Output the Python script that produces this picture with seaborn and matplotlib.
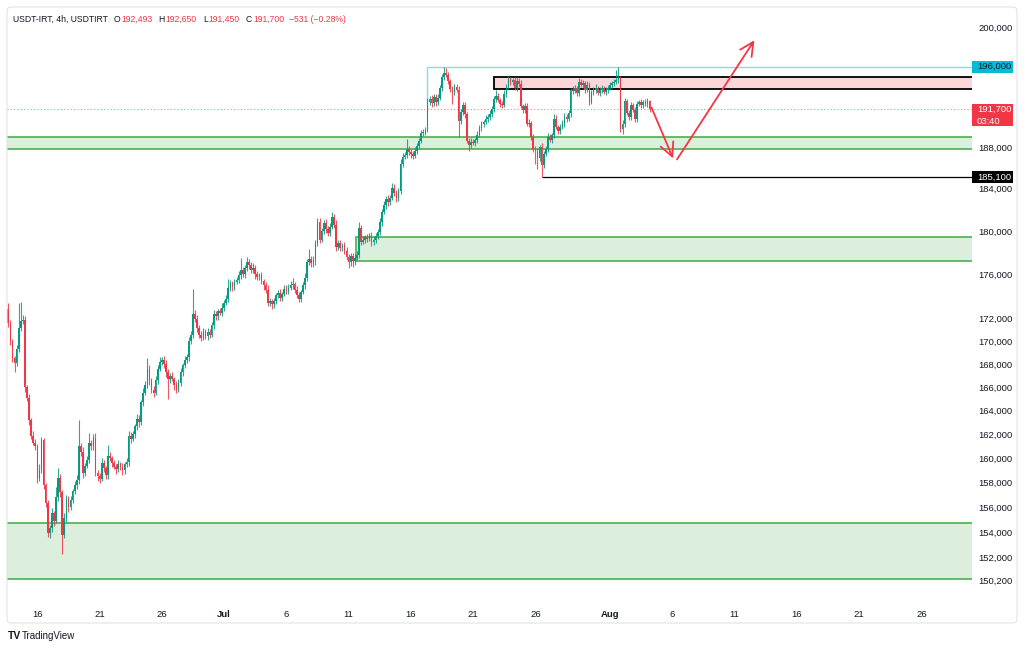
import numpy as np
import pandas as pd
import matplotlib
matplotlib.use("Agg")
import matplotlib.pyplot as plt
import matplotlib.dates as mdates
from matplotlib.patches import Rectangle, FancyBboxPatch
from matplotlib.ticker import FixedLocator, FuncFormatter, NullLocator
import seaborn as sns

# ---- data (prices in thousands of IRT, wicks in hundreds of IRT) ----
first_start = "2025-06-13 16:00"
first_open = 172.9
closes = [
    171.6, 170.0, 168.5, 168.1, 169.3, 171.2, 171.8, 171.9, 166.0, 165.1,
    163.2, 161.9, 161.3, 161.0, 158.4, 159.0, 161.5, 157.8, 156.3, 153.9,
    154.3, 155.5, 154.9, 156.8, 158.4, 157.2, 153.8, 155.1, 156.7, 156.0,
    156.6, 157.3, 157.8, 158.2, 161.0, 160.5, 158.8, 159.4, 159.9, 161.3,
    161.0, 161.7, 158.8, 158.5, 158.3, 159.6, 159.2, 158.6, 160.2, 160.0,
    159.6, 159.3, 159.1, 159.5, 159.3, 159.0, 159.5, 159.7, 161.9, 161.6,
    162.0, 162.7, 163.3, 163.0, 164.7, 165.5, 166.2, 167.6, 166.6, 165.8,
    165.5, 166.6, 167.6, 168.2, 168.4, 168.0, 167.3, 166.7, 167.0, 166.7,
    166.2, 165.8, 166.4, 167.3, 167.9, 168.4, 168.6, 170.0, 170.6, 172.4,
    172.0, 171.2, 170.6, 170.3, 170.9, 170.5, 170.8, 170.6, 171.4, 172.4,
    172.2, 172.7, 172.5, 173.0, 173.4, 173.8, 174.8, 175.2, 174.9, 175.3,
    175.5, 175.9, 176.4, 176.0, 176.6, 177.1, 176.9, 176.4, 176.6, 176.0,
    175.8, 175.9, 175.4, 175.0, 174.6, 173.4, 173.6, 173.3, 173.6, 174.1,
    174.3, 173.9, 174.2, 174.7, 174.5, 174.8, 175.0, 175.1, 174.6, 174.1,
    173.8, 174.4, 175.0, 175.7, 177.1, 177.4, 177.0, 177.3, 178.9, 180.8,
    179.2, 180.0, 180.7, 180.2, 179.8, 180.4, 181.3, 180.6, 178.5, 178.9,
    178.4, 178.7, 178.1, 177.6, 177.1, 177.7, 177.2, 177.5, 177.8, 180.3,
    179.0, 179.2, 179.4, 179.3, 179.5, 179.0, 179.2, 179.5, 179.9, 180.8,
    181.8, 182.4, 183.0, 182.7, 183.1, 184.1, 183.6, 183.1, 183.8, 186.4,
    187.0, 187.2, 187.8, 187.5, 187.3, 187.1, 187.6, 188.1, 188.6, 189.4,
    189.5, 189.7, 192.4, 192.7, 192.3, 192.9, 192.4, 192.8, 193.8, 194.9,
    195.4, 195.2, 194.5, 193.7, 193.4, 193.9, 193.6, 190.6, 191.4, 192.1,
    191.2, 188.6, 188.2, 188.5, 188.4, 188.7, 189.2, 189.9, 190.3, 190.5,
    190.8, 191.0, 191.2, 191.7, 192.7, 193.0, 192.6, 192.2, 192.1, 193.2,
    193.9, 194.7, 194.4, 194.6, 193.8, 194.5, 194.2, 192.0, 191.6, 192.0,
    190.3, 190.4, 189.0, 187.7, 187.6, 186.9, 188.0, 186.3, 187.3, 187.8,
    189.0, 188.7, 189.2, 190.8, 190.0, 189.6, 190.0, 190.3, 191.0, 190.8,
    191.3, 193.6, 193.5, 193.8, 193.3, 194.4, 194.1, 194.3, 193.6, 194.1,
    192.4, 193.4, 193.6, 193.8, 193.3, 193.6, 193.8, 193.4, 193.6, 193.8,
    194.1, 194.3, 194.4, 194.6, 194.8, 189.8, 190.3, 192.5, 191.3, 191.0,
    192.1, 191.6, 190.8, 192.2, 192.4, 192.1, 192.4, 192.2, 192.493, 191.7,
]
wick_up = [
    5, 3, 2, 2, 4, 22, 17, 4, 3, 2,
    3, 2, 4, 3, 2, 5, 3, 2, 2, 3,
    3, 4, 2, 8, 8, 3, 2, 4, 3, 2,
    3, 2, 3, 4, 22, 3, 4, 2, 3, 8,
    2, 3, 4, 2, 3, 4, 3, 2, 9, 3,
    2, 3, 2, 4, 2, 3, 2, 3, 4, 3,
    3, 2, 4, 3, 2, 4, 3, 9, 3, 2,
    3, 4, 3, 4, 2, 3, 4, 3, 2, 3,
    2, 3, 3, 4, 2, 3, 3, 4, 3, 23,
    4, 3, 2, 3, 3, 2, 4, 3, 3, 4,
    3, 2, 3, 4, 3, 3, 8, 3, 2, 3,
    3, 4, 11, 3, 3, 5, 3, 2, 4, 3,
    3, 2, 3, 2, 3, 4, 3, 2, 3, 2,
    3, 4, 2, 3, 3, 3, 4, 6, 2, 3,
    3, 2, 3, 4, 3, 9, 3, 4, 3, 4,
    4, 3, 3, 4, 3, 3, 5, 3, 4, 3,
    3, 2, 3, 4, 3, 3, 3, 4, 3, 5,
    3, 3, 2, 3, 3, 4, 2, 3, 3, 4,
    3, 4, 3, 4, 3, 4, 3, 3, 3, 4,
    4, 3, 10, 3, 3, 3, 4, 3, 3, 3,
    3, 3, 4, 3, 4, 3, 3, 4, 3, 4,
    6, 5, 3, 2, 3, 3, 3, 4, 3, 3,
    3, 2, 3, 4, 3, 2, 4, 3, 3, 2,
    3, 2, 4, 3, 3, 6, 3, 2, 3, 4,
    3, 4, 3, 2, 3, 5, 3, 4, 2, 3,
    3, 4, 2, 3, 4, 3, 2, 4, 3, 3,
    4, 3, 2, 4, 3, 2, 3, 4, 3, 2,
    3, 2, 4, 3, 2, 4, 3, 3, 2, 4,
    3, 2, 3, 4, 2, 3, 3, 2, 3, 3,
    3, 2, 3, 11, 12, 3, 4, 3, 2, 3,
    3, 2, 3, 3, 2, 3, 2, 3, 3, 1.6,
]
wick_dn = [
    3, 3, 3, 8, 3, 2, 3, 3, 4, 3,
    4, 3, 2, 3, 4, 3, 2, 3, 3, 3,
    4, 3, 4, 2, 3, 4, 15, 3, 3, 4,
    2, 3, 2, 3, 3, 3, 4, 3, 2, 3,
    3, 3, 3, 4, 3, 2, 3, 3, 3, 2,
    3, 2, 4, 2, 3, 4, 3, 2, 3, 3,
    2, 3, 3, 4, 2, 3, 2, 3, 4, 3,
    3, 2, 3, 2, 3, 3, 4, 17, 3, 2,
    4, 3, 2, 3, 3, 2, 3, 3, 2, 3,
    3, 4, 3, 3, 2, 3, 4, 3, 2, 3,
    3, 3, 2, 3, 3, 2, 3, 3, 4, 3,
    2, 3, 3, 2, 3, 3, 4, 3, 3, 4,
    3, 3, 3, 4, 3, 3, 3, 4, 3, 3,
    2, 3, 3, 2, 3, 3, 2, 3, 3, 2,
    3, 3, 2, 3, 3, 2, 3, 3, 4, 3,
    3, 2, 3, 4, 3, 3, 2, 3, 4, 3,
    3, 3, 2, 3, 5, 3, 5, 3, 2, 3,
    3, 2, 3, 3, 2, 4, 3, 3, 2, 3,
    3, 2, 3, 4, 3, 2, 3, 4, 3, 3,
    3, 2, 3, 3, 4, 3, 2, 3, 3, 2,
    3, 3, 2, 3, 4, 3, 4, 3, 2, 3,
    3, 2, 3, 3, 12, 3, 2, 16, 3, 3,
    3, 2, 6, 3, 2, 3, 3, 2, 3, 3,
    2, 3, 3, 2, 3, 3, 2, 3, 3, 2,
    3, 2, 3, 3, 2, 3, 3, 2, 3, 3,
    2, 3, 3, 2, 12, 10, 3, 12, 3, 2,
    3, 2, 3, 3, 2, 3, 3, 2, 3, 3,
    2, 3, 3, 2, 3, 3, 2, 3, 3, 2,
    3, 2, 3, 3, 2, 3, 3, 2, 3, 3,
    2, 3, 3, 2, 3, 3, 5, 3, 2, 3,
    3, 2, 3, 3, 2, 3, 3, 2, 3, 2.5,
]

zone_upper = (187.8, 189.0)
zone_mid = (177.2, 179.4)
zone_mid_start = "2025-07-11 15:00"
zone_low = (150.3, 154.7)
supply_box = (193.7, 194.9)
supply_start = "2025-07-22 17:00"
high_level = 196.0
high_start = "2025-07-17 08:00"
high_drop = 192.4
low_level = 185.1
low_start = "2025-07-26 12:00"
last_price = 191.7

arrow_down = [("2025-08-04 07:40", 191.9), ("2025-08-06 01:30", 186.9)]
arrow_up = [("2025-08-06 09:00", 186.8), ("2025-08-12 14:10", 198.7)]

ytick_values = [200000, 188000, 184000, 180000, 176000, 172000, 170000, 168000,
                166000, 164000, 162000, 160000, 158000, 156000, 154000, 152000, 150200]
xtick_dates = ["2025-06-16", "2025-06-21", "2025-06-26", "2025-07-01", "2025-07-06",
               "2025-07-11", "2025-07-16", "2025-07-21", "2025-07-26", "2025-08-01",
               "2025-08-06", "2025-08-11", "2025-08-16", "2025-08-21", "2025-08-26"]
xtick_labels = ["16", "21", "26", "Jul", "6", "11", "16", "21", "26", "Aug",
                "6", "11", "16", "21", "26"]

header = [("USDT-IRT, 4h, USDTIRT", "dark", 6), ("O", "dark", 1), ("192,493", "red", 6),
          ("H", "dark", 1), ("192,650", "red", 6), ("L", "dark", 1), ("191,450", "red", 6),
          ("C", "dark", 1), ("191,700", "red", 5), ("\u2212531 (\u22120.28%)", "red", 0)]

GREEN = "#089981"
RED = "#f23645"
TXT = "#131722"

sns.set_theme(style="white")
plt.rcParams["font.family"] = ["Liberation Sans", "DejaVu Sans"]

# ---- build OHLC table ----
times = pd.date_range(first_start, periods=len(closes), freq="4h")
close = np.array(closes) * 1000
open_ = np.concatenate([[first_open], closes[:-1]]) * 1000
high = np.maximum(open_, close) + np.array(wick_up) * 100
low = np.minimum(open_, close) - np.array(wick_dn) * 100
df = pd.DataFrame({"time": times, "open": open_, "high": high, "low": low, "close": close})
df["x"] = mdates.date2num(df["time"])
df["color"] = np.where(df["close"] >= df["open"], GREEN, RED)

W, H = 1024, 650
fig = plt.figure(figsize=(W / 100, H / 100), dpi=100)
fig.patch.set_facecolor("white")
ax = fig.add_axes([7 / W, 1 - 600 / H, (972 - 7) / W, (600 - 7) / H])
ax.set_facecolor("white")

x_left = mdates.date2num(pd.Timestamp("2025-06-13 13:30"))
x_right = mdates.date2num(pd.Timestamp("2025-08-30 01:36"))
far_right = x_right + 30


def d(s):
    return mdates.date2num(pd.Timestamp(s))


# zones
for lo, hi, start in [(zone_upper[0], zone_upper[1], x_left - 5),
                      (zone_mid[0], zone_mid[1], d(zone_mid_start)),
                      (zone_low[0], zone_low[1], x_left - 5)]:
    ax.add_patch(Rectangle((start, lo * 1000), far_right - start, (hi - lo) * 1000,
                           facecolor="#dbefdc", edgecolor="#4caf50", lw=1.2, zorder=1))

ax.add_patch(Rectangle((d(supply_start), supply_box[0] * 1000), far_right - d(supply_start),
                       (supply_box[1] - supply_box[0]) * 1000,
                       facecolor="#fcd7da", edgecolor="black", lw=1.3, zorder=1))

# levels
ax.hlines(high_level * 1000, d(high_start), far_right, color="#80deea", lw=1.0, zorder=1)
ax.vlines(d(high_start), high_drop * 1000, high_level * 1000, color="#80deea", lw=1.0, zorder=1)
ax.hlines(low_level * 1000, d(low_start), far_right, color="black", lw=0.9, zorder=1)
ax.axhline(last_price * 1000, color=RED, lw=0.8, ls=(0, (1, 2)), alpha=0.6, zorder=1)

# candles
ax.vlines(df["x"], df["low"], df["high"], colors=df["color"], lw=0.8, alpha=0.85, zorder=2)
body_lo = np.minimum(df["open"], df["close"])
body_h = np.maximum(np.abs(df["close"] - df["open"]), 40)
ax.bar(df["x"], body_h, bottom=body_lo, width=4 / 24 * 0.8, color=df["color"],
       linewidth=0, zorder=3)

# arrows
for (s0, p0), (s1, p1) in [arrow_down, arrow_up]:
    ax.annotate("", xy=(d(s1), p1 * 1000), xytext=(d(s0), p0 * 1000),
                arrowprops=dict(arrowstyle="->,head_length=0.7,head_width=0.35", color=RED,
                                lw=1.3, shrinkA=0, shrinkB=0, mutation_scale=14), zorder=4)

ax.set_yscale("log")
ax.set_xlim(x_left, x_right)
ax.set_ylim(148675, 202150)

ax.yaxis.set_major_locator(FixedLocator(ytick_values))
ax.yaxis.set_minor_locator(NullLocator())
ax.yaxis.set_major_formatter(FuncFormatter(lambda v, p: f"{int(round(v)):,}"))
ax.yaxis.tick_right()
ax.tick_params(axis="y", length=0, pad=4.5, labelsize=6.8, colors=TXT)

ax.set_xticks([d(s) for s in xtick_dates])
ax.set_xticklabels(xtick_labels)
ax.tick_params(axis="x", length=0, pad=7, labelsize=6.8, colors=TXT)
for lab in ax.get_xticklabels():
    if lab.get_text() in ("Jul", "Aug"):
        lab.set_fontweight("bold")
ax.grid(False)
for sp in ax.spines.values():
    sp.set_visible(False)


# price-axis labels
def axis_tag(price, text, fc, tc, top=6, bottom=6):
    _, yp = ax.transData.transform((x_left, price * 1000))
    fig.add_artist(Rectangle((972, yp - bottom), 41, top + bottom, transform=None,
                             facecolor=fc, edgecolor="none", zorder=10))
    for k, t in enumerate(text):
        fig.text(977 / W, (yp - k * 12) / H, t, color=tc, fontsize=6.8,
                 ha="left", va="center", zorder=11)


axis_tag(high_level, ["196,000"], "#00bcd4", TXT)
axis_tag(last_price, ["191,700", "03:40"], RED, "white", top=5, bottom=17)
axis_tag(low_level, ["185,100"], "black", "white")

# header, laid out left to right with measured widths
fig.canvas.draw()
renderer = fig.canvas.get_renderer()
xp = 13
for t, kind, gap in header:
    txt = fig.text(xp / W, 1 - 19 / H, t, color=RED if kind == "red" else TXT,
                   fontsize=6.2, ha="left", va="center")
    xp += txt.get_window_extent(renderer).width + gap

# outer frame and logo
fig.add_artist(FancyBboxPatch((7, 27), 1010, 616, boxstyle="round,pad=0,rounding_size=4",
                              transform=None, facecolor="none", edgecolor="#e0e3eb", lw=0.8))
fig.text(8 / W, 1 - 636 / H, "TV", color=TXT, fontsize=7.5, fontweight="bold",
         ha="left", va="center")
fig.text(22 / W, 1 - 636 / H, "TradingView", color=TXT, fontsize=7, ha="left", va="center")

fig.savefig("out.png", dpi=100)
plt.close(fig)
